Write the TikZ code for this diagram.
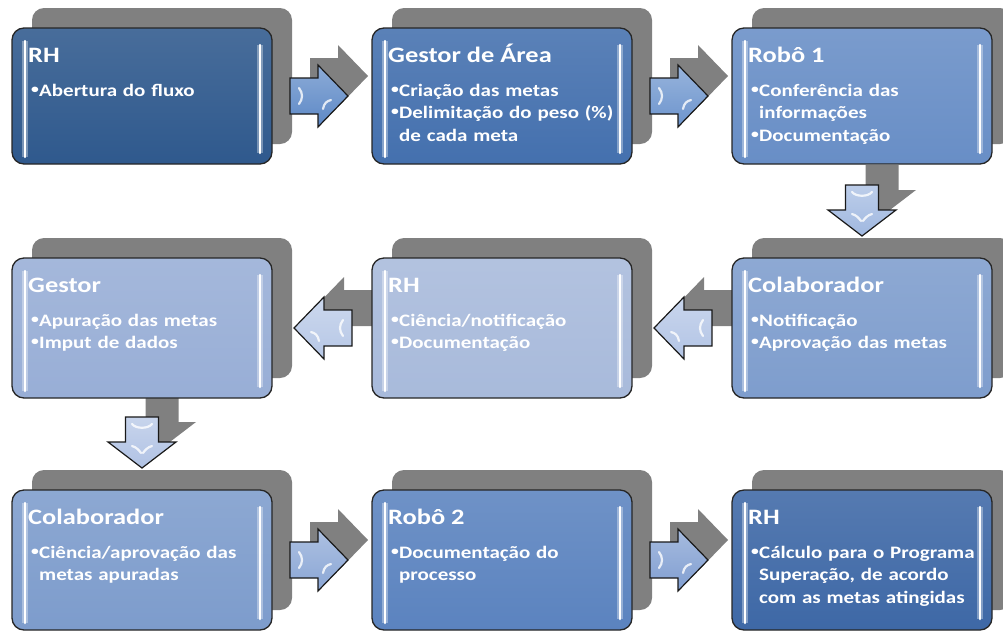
\documentclass[tikz,border=0pt]{standalone}
\usepackage{fontspec}
\setmainfont{Carlito}[FakeStretch=1.2]
\usetikzlibrary{calc,shadows}

\definecolor{shadowgray}{RGB}{128,128,128}
\definecolor{cA}{RGB}{47,89,141}
\definecolor{cB}{RGB}{68,112,174}
\definecolor{cC}{RGB}{104,142,198}
\definecolor{cD}{RGB}{126,157,205}
\definecolor{cE}{RGB}{168,186,219}
\definecolor{cF}{RGB}{152,174,214}
\definecolor{cG}{RGB}{125,156,204}
\definecolor{cH}{RGB}{91,131,191}
\definecolor{cI}{RGB}{62,104,166}
\definecolor{arA}{RGB}{92,136,198}
\definecolor{arB}{RGB}{108,148,205}
\definecolor{arC}{RGB}{160,184,224}
\definecolor{arD}{RGB}{178,196,229}
\definecolor{arE}{RGB}{182,199,230}
\definecolor{arF}{RGB}{176,194,228}
\definecolor{arG}{RGB}{138,166,213}
\definecolor{arH}{RGB}{128,158,209}

% block arrows: #1 tail middle (or top middle), #2 direction, #3 style
\newcommand\harr[3]{\draw[#3] (#1) ++(0,-18) -- ++({28*#2},0) -- ++(0,-13) -- ++({30*#2},31) -- ++({-30*#2},31) -- ++(0,-13) -- ++({-28*#2},0) -- cycle;}
\newcommand\varr[2]{\draw[#2] (#1) ++(-16.5,0) -- ++(33,0) -- ++(0,25) -- ++(17.5,0) -- ++(-34,26) -- ++(-34,-26) -- ++(17.5,0) -- cycle;}
\newcommand\hshine[2]{%
  \draw[shine] ($(#1)+({9*#2},-8)$) .. controls +({4*#2},5) and +({4*#2},-5) .. ($(#1)+({9*#2},8)$);
  \draw[shine] ($(#1)+({33*#2},13)$) .. controls +({1*#2},-6) and +({-4*#2},1) .. ($(#1)+({41*#2},4)$);}
\newcommand\vshine[1]{%
  \draw[shine] ($(#1)+(-10,7)$) .. controls +(4,5) and +(-4,5) .. ($(#1)+(10,7)$);
  \draw[shine] ($(#1)+(-10,29)$) .. controls +(4,1) and +(-2,-3) .. ($(#1)+(-1,36)$);
  \draw[shine] ($(#1)+(10,29)$) .. controls +(-4,1) and +(2,-3) .. ($(#1)+(1,36)$);}
\newcommand\itm[1]{\hangindent=11pt\hangafter=1\noindent\makebox[11pt][l]{\hspace{3pt}\raisebox{3pt}{\fontsize{13}{13}\selectfont •}}#1\par}

\begin{document}
\begin{tikzpicture}[x=1pt,y=-1pt]
\tikzset{stepbox/.style={draw=black!85, line width=1.3pt, rounded corners=12pt,
    minimum width=260pt, minimum height=140pt, anchor=north west, inner sep=0pt, outer sep=0pt,
    top color=#1!88!white, bottom color=#1,
    drop shadow={shadow xshift=20pt, shadow yshift=20pt, fill=shadowgray, opacity=1}}}
\tikzset{boxtitle/.style={anchor=base west, inner sep=0pt, text=white, font=\fontsize{22}{26}\selectfont\bfseries}}
\tikzset{boxbody/.style={anchor=base west, inner sep=0pt, text=white, text width=240pt, align=left,
    font=\fontsize{17.5}{22.5}\selectfont\bfseries}}
\tikzset{gloss/.style={white, line width=2.5pt, line cap=round, preaction={draw=white, opacity=.35, line width=5.5pt}}}
\tikzset{arrowbox/.style={draw=black!90, line width=1.2pt, top color=#1!70!white, bottom color=#1}}
\tikzset{arrowshadow/.style={fill=shadowgray, draw=none}}
\tikzset{shine/.style={white, opacity=.8, line width=2.2pt, line cap=round}}
\useasboundingbox (0,0) rectangle (1003,635);

% arrow positions
\coordinate (a1) at (290,96);
\coordinate (a2) at (650,96);
\coordinate (a3) at (862,185);
\coordinate (a4) at (712,328);
\coordinate (a5) at (352,328);
\coordinate (a6) at (142,417);
\coordinate (a7) at (290,560);
\coordinate (a8) at (650,560);

% arrow shadows
\harr{$(a1)+(20,-20)$}{1}{arrowshadow}
\harr{$(a2)+(20,-20)$}{1}{arrowshadow}
\varr{$(a3)+(20,-20)$}{arrowshadow}
\harr{$(a4)+(20,-20)$}{-1}{arrowshadow}
\harr{$(a5)+(20,-20)$}{-1}{arrowshadow}
\varr{$(a6)+(20,-20)$}{arrowshadow}
\harr{$(a7)+(20,-20)$}{1}{arrowshadow}
\harr{$(a8)+(20,-20)$}{1}{arrowshadow}

% boxes
\node[stepbox=cA, minimum height=136pt] (b1) at (12,28) {};
\node[stepbox=cB, minimum height=136pt] (b2) at (372,28) {};
\node[stepbox=cC, minimum height=136pt] (b3) at (732,28) {};
\node[stepbox=cD] (b4) at (732,258) {};
\node[stepbox=cE] (b5) at (372,258) {};
\node[stepbox=cF] (b6) at (12,258) {};
\node[stepbox=cG] (b7) at (12,490) {};
\node[stepbox=cH] (b8) at (372,490) {};
\node[stepbox=cI] (b9) at (732,490) {};

\foreach \i in {1,...,9}{
  \draw[gloss] ($(b\i.north west)+(13,13)$) -- ($(b\i.south west)+(13,-7)$);
  \draw[gloss] ($(b\i.north east)+(-12,17)$) -- ($(b\i.south east)+(-12,-11)$);
}

% texts
\node[boxtitle] (t1) at ($(b1.north west)+(16,34)$) {RH};
\node[boxbody] (d1) at ($(b1.north west)+(16,68)$) {\itm{Abertura do fluxo}};
\node[boxtitle] (t2) at ($(b2.north west)+(16,34)$) {Gestor de Área};
\node[boxbody] (d2) at ($(b2.north west)+(16,68)$) {\itm{Criação das metas}\itm{Delimitação do peso (\%)\newline de cada meta}};
\node[boxtitle] (t3) at ($(b3.north west)+(16,34)$) {Robô 1};
\node[boxbody] (d3) at ($(b3.north west)+(16,68)$) {\itm{Conferência das\newline informações}\itm{Documentação}};
\node[boxtitle] (t4) at ($(b4.north west)+(16,34)$) {Colaborador};
\node[boxbody] (d4) at ($(b4.north west)+(16,68)$) {\itm{Notificação}\itm{Aprovação das metas}};
\node[boxtitle] (t5) at ($(b5.north west)+(16,34)$) {RH};
\node[boxbody] (d5) at ($(b5.north west)+(16,68)$) {\itm{Ciência/notificação}\itm{Documentação}};
\node[boxtitle] (t6) at ($(b6.north west)+(16,34)$) {Gestor};
\node[boxbody] (d6) at ($(b6.north west)+(16,68)$) {\itm{Apuração das metas}\itm{Imput de dados}};
\node[boxtitle] (t7) at ($(b7.north west)+(16,34)$) {Colaborador};
\node[boxbody] (d7) at ($(b7.north west)+(16,68)$) {\itm{Ciência/aprovação das\newline metas apuradas}};
\node[boxtitle] (t8) at ($(b8.north west)+(16,34)$) {Robô 2};
\node[boxbody] (d8) at ($(b8.north west)+(16,68)$) {\itm{Documentação do\newline processo}};
\node[boxtitle] (t9) at ($(b9.north west)+(16,34)$) {RH};
\node[boxbody] (d9) at ($(b9.north west)+(16,68)$) {\itm{Cálculo para o Programa\newline Superação, de acordo\newline com as metas atingidas}};

% arrows
\harr{a1}{1}{arrowbox=arA} \hshine{a1}{1}
\harr{a2}{1}{arrowbox=arB} \hshine{a2}{1}
\varr{a3}{arrowbox=arC} \vshine{a3}
\harr{a4}{-1}{arrowbox=arD} \hshine{a4}{-1}
\harr{a5}{-1}{arrowbox=arE} \hshine{a5}{-1}
\varr{a6}{arrowbox=arF} \vshine{a6}
\harr{a7}{1}{arrowbox=arG} \hshine{a7}{1}
\harr{a8}{1}{arrowbox=arH} \hshine{a8}{1}
\end{tikzpicture}
\end{document}
